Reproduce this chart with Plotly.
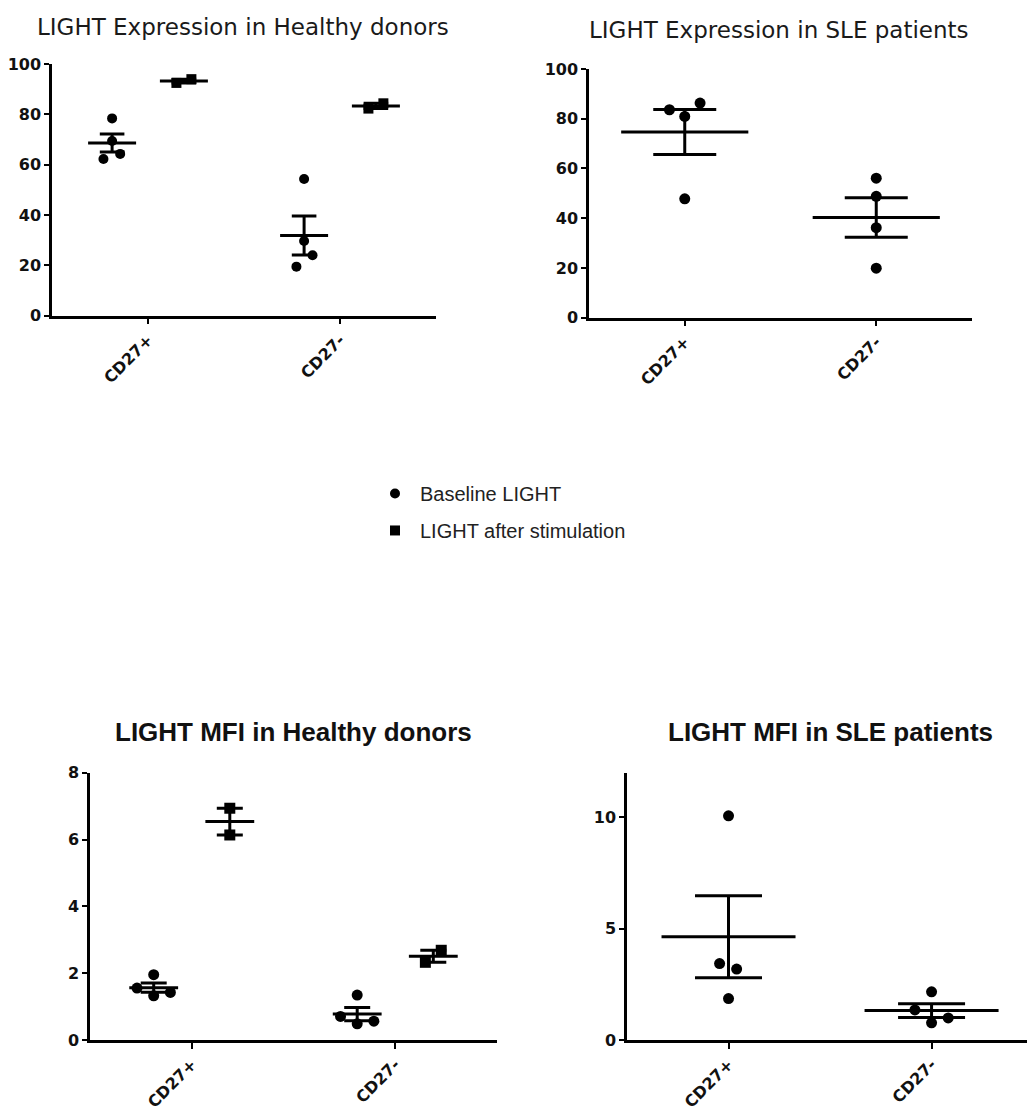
import numpy as np
import plotly.graph_objects as go

# ---------------- data ----------------
categories = ["CD27+", "CD27-"]
series_names = ["Baseline LIGHT", "LIGHT after stimulation"]

# % LIGHT expression, healthy donors
hd_pct_base_pos = [78.4, 69.4, 64.3, 62.3]
hd_pct_base_neg = [54.3, 29.7, 24.0, 19.5]
hd_pct_stim_pos = [92.5, 94.0]
hd_pct_stim_neg = [82.3, 84.4]

# % LIGHT expression, SLE patients
sle_pct_base_pos = [83.6, 86.3, 80.9, 47.8]
sle_pct_base_neg = [56.1, 48.8, 36.2, 19.9]

# LIGHT MFI, healthy donors
hd_mfi_base_pos = [1.96, 1.56, 1.43, 1.33]
hd_mfi_base_neg = [1.35, 0.71, 0.57, 0.49]
hd_mfi_stim_pos = [6.94, 6.14]
hd_mfi_stim_neg = [2.33, 2.69]

# LIGHT MFI, SLE patients
sle_mfi_base_pos = [10.07, 3.44, 3.19, 1.87]
sle_mfi_base_neg = [2.17, 1.36, 1.00, 0.78]

titles = ["LIGHT Expression in Healthy donors", "LIGHT Expression in SLE patients",
          "LIGHT MFI in Healthy donors", "LIGHT MFI in SLE patients"]

# ---------------- styling (positions / sizes) ----------------
W, H = 1027, 1119
GROUP_OFF = 0.187
jit_hd_base_pos = [0, 0, 0.042, -0.045]
jit_hd_base_neg = [0, 0, 0.044, -0.04]
jit_hd_stim = [-0.039, 0.039]
jit_sle_pct_pos = [-0.08, 0.08, 0, 0]
jit_zero4 = [0, 0, 0, 0]
jit_mfi_base = [0, -0.082, 0.082, 0]
jit_mfi_stim_pos = [0, 0]
jit_sle_mfi_pos = [0, -0.044, 0.04, 0]
jit_sle_mfi_neg = [0, -0.082, 0.082, 0]

def px_dom_x(a, b):
    return [a / W, b / W]

def px_dom_y(top, bottom):
    return [1 - bottom / H, 1 - top / H]

panels = [
    dict(x=px_dom_x(52, 436), y=px_dom_y(56, 312), xr=[0.5, 2.5], yr=[0, 100], dtick=20),
    dict(x=px_dom_x(589, 972), y=px_dom_y(61, 314), xr=[0.5, 2.5], yr=[0, 100], dtick=20),
    dict(x=px_dom_x(90, 497), y=px_dom_y(777, 1049), xr=[0.5, 2.5], yr=[0, 8], dtick=2),
    dict(x=px_dom_x(627, 1027), y=px_dom_y(777, 1049), xr=[0.5, 2.47], yr=[0, 12], dtick=5),
]

fig = go.Figure()

def add_group(ax, vals, center, jitter, symbol, msize, mean_hw, cap_hw, legend=None):
    xa = "x" if ax == 1 else f"x{ax}"
    ya = "y" if ax == 1 else f"y{ax}"
    v = np.array(vals, dtype=float)
    m = v.mean()
    sem = v.std(ddof=1) / np.sqrt(len(v))
    fig.add_trace(go.Scatter(
        x=[center + j for j in jitter], y=vals, mode="markers", xaxis=xa, yaxis=ya,
        marker=dict(symbol=symbol, size=msize, color="black"),
        showlegend=legend is not None, name=legend if legend else "",
        legendgroup=legend if legend else None, cliponaxis=False, hoverinfo="y"))
    fig.add_trace(go.Scatter(
        x=[center - mean_hw, center + mean_hw], y=[m, m], mode="lines", xaxis=xa, yaxis=ya,
        line=dict(color="black", width=3), showlegend=False, hoverinfo="skip"))
    fig.add_trace(go.Scatter(
        x=[center], y=[m], mode="markers", xaxis=xa, yaxis=ya,
        marker=dict(size=1, opacity=0),
        error_y=dict(type="data", array=[sem], color="black", thickness=3, width=cap_hw),
        showlegend=False, hoverinfo="skip"))

# Panel 1: % healthy donors
add_group(1, hd_pct_base_pos, 1 - GROUP_OFF, jit_hd_base_pos, "circle", 10, 0.125, 12.3, series_names[0])
add_group(1, hd_pct_base_neg, 2 - GROUP_OFF, jit_hd_base_neg, "circle", 10, 0.125, 12.3)
add_group(1, hd_pct_stim_pos, 1 + GROUP_OFF, jit_hd_stim, "square", 10, 0.125, 12.3, series_names[1])
add_group(1, hd_pct_stim_neg, 2 + GROUP_OFF, jit_hd_stim, "square", 10, 0.125, 12.3)

# Panel 2: % SLE
add_group(2, sle_pct_base_pos, 1, jit_sle_pct_pos, "circle", 11, 0.332, 31.5)
add_group(2, sle_pct_base_neg, 2, jit_zero4, "circle", 11, 0.332, 31.5)

# Panel 3: MFI healthy donors
add_group(3, hd_mfi_base_pos, 1 - GROUP_OFF, jit_mfi_base, "circle", 11, 0.12, 13)
add_group(3, hd_mfi_base_neg, 2 - GROUP_OFF, jit_mfi_base, "circle", 11, 0.12, 13)
add_group(3, hd_mfi_stim_pos, 1 + GROUP_OFF, jit_mfi_stim_pos, "square", 11, 0.12, 13)
add_group(3, hd_mfi_stim_neg, 2 + GROUP_OFF, jit_hd_stim, "square", 11, 0.12, 13)

# Panel 4: MFI SLE
add_group(4, sle_mfi_base_pos, 1, jit_sle_mfi_pos, "circle", 11, 0.33, 33.5)
add_group(4, sle_mfi_base_neg, 2, jit_sle_mfi_neg, "circle", 11, 0.33, 33.5)

tick_font = dict(family="DejaVu Sans", size=16, color="#111", weight="bold")
layout = dict(
    width=W, height=H, margin=dict(l=0, r=0, t=0, b=0),
    paper_bgcolor="white", plot_bgcolor="white",
    showlegend=True,
    legend=dict(x=370 / W, y=1 - 473 / H, xanchor="left", yanchor="top",
                font=dict(family="Liberation Sans", size=20, color="#222"),
                tracegroupgap=8, itemwidth=40, bgcolor="rgba(0,0,0,0)"),
)
for i, p in enumerate(panels, start=1):
    sx = "" if i == 1 else str(i)
    layout[f"xaxis{sx}"] = dict(
        domain=p["x"], range=p["xr"], anchor=f"y{sx}", tickmode="array",
        tickvals=[1, 2], ticktext=categories, tickangle=-45,
        showline=True, linecolor="black", linewidth=2.5, ticks="outside",
        ticklen=6, tickwidth=2, tickcolor="black", showgrid=False, zeroline=False,
        tickfont=tick_font, fixedrange=True)
    layout[f"yaxis{sx}"] = dict(
        domain=p["y"], range=p["yr"], anchor=f"x{sx}", dtick=p["dtick"], tick0=0,
        showline=True, linecolor="black", linewidth=2.5, ticks="outside",
        ticklen=5, tickwidth=2, tickcolor="black", showgrid=False, zeroline=False,
        tickfont=tick_font, fixedrange=True)

fig.update_layout(**layout)

title_specs = [
    (243, 18, dict(family="DejaVu Sans", size=23, color="#1a1a1a")),
    (779, 21, dict(family="DejaVu Sans", size=23, color="#1a1a1a")),
    (293, 735, dict(family="Liberation Sans", size=26, color="#111", weight="bold")),
    (830, 735, dict(family="Liberation Sans", size=26, color="#111", weight="bold")),
]
for t, (cx, cy, f) in zip(titles, title_specs):
    fig.add_annotation(text=t, x=cx / W, y=1 - cy / H, xref="paper", yref="paper",
                       xanchor="center", yanchor="middle", showarrow=False, font=f)

fig.write_html("out.html")
